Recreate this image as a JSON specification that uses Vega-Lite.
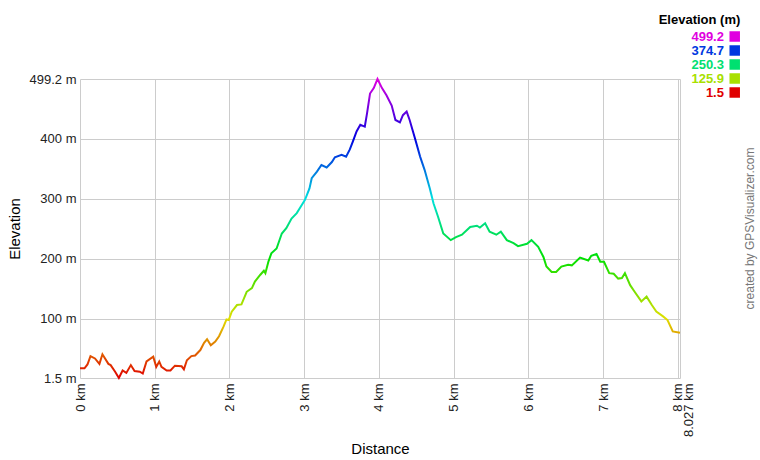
{
  "$schema": "https://vega.github.io/schema/vega-lite/v6.json",
  "width": 600,
  "height": 299,
  "autosize": {"type": "none"},
  "padding": {"left": 80, "top": 79, "right": 80, "bottom": 82},
  "background": "white",
  "config": {"view": {"stroke": null}, "font": "Liberation Sans"},
  "title": {
    "text": "created by GPSVisualizer.com",
    "orient": "right",
    "angle": 270,
    "anchor": "middle",
    "frame": "group",
    "offset": -7,
    "fontSize": 12,
    "fontWeight": "normal",
    "font": "Liberation Sans",
    "color": "#777777"
  },
  "layer": [
    {
      "data": {
        "values": [
          {"distance_km": 0.00, "elevation_m": 17.6},
          {"distance_km": 0.06, "elevation_m": 17.6},
          {"distance_km": 0.10, "elevation_m": 24},
          {"distance_km": 0.14, "elevation_m": 38},
          {"distance_km": 0.20, "elevation_m": 34},
          {"distance_km": 0.26, "elevation_m": 25},
          {"distance_km": 0.30, "elevation_m": 41},
          {"distance_km": 0.38, "elevation_m": 25},
          {"distance_km": 0.41, "elevation_m": 23},
          {"distance_km": 0.47, "elevation_m": 12},
          {"distance_km": 0.52, "elevation_m": 1.5},
          {"distance_km": 0.57, "elevation_m": 14},
          {"distance_km": 0.62, "elevation_m": 10},
          {"distance_km": 0.68, "elevation_m": 23},
          {"distance_km": 0.73, "elevation_m": 13},
          {"distance_km": 0.80, "elevation_m": 12},
          {"distance_km": 0.84, "elevation_m": 9},
          {"distance_km": 0.89, "elevation_m": 29},
          {"distance_km": 0.98, "elevation_m": 37},
          {"distance_km": 1.02, "elevation_m": 20},
          {"distance_km": 1.06, "elevation_m": 29},
          {"distance_km": 1.09, "elevation_m": 20},
          {"distance_km": 1.16, "elevation_m": 14},
          {"distance_km": 1.21, "elevation_m": 14},
          {"distance_km": 1.27, "elevation_m": 22},
          {"distance_km": 1.36, "elevation_m": 21},
          {"distance_km": 1.39, "elevation_m": 16},
          {"distance_km": 1.43, "elevation_m": 31},
          {"distance_km": 1.49, "elevation_m": 38},
          {"distance_km": 1.54, "elevation_m": 39},
          {"distance_km": 1.61, "elevation_m": 48},
          {"distance_km": 1.66, "elevation_m": 60},
          {"distance_km": 1.70, "elevation_m": 66},
          {"distance_km": 1.75, "elevation_m": 56},
          {"distance_km": 1.81, "elevation_m": 62},
          {"distance_km": 1.86, "elevation_m": 71},
          {"distance_km": 1.92, "elevation_m": 87},
          {"distance_km": 1.96, "elevation_m": 99},
          {"distance_km": 1.99, "elevation_m": 98},
          {"distance_km": 2.03, "elevation_m": 112},
          {"distance_km": 2.10, "elevation_m": 123},
          {"distance_km": 2.16, "elevation_m": 124},
          {"distance_km": 2.23, "elevation_m": 145},
          {"distance_km": 2.30, "elevation_m": 151},
          {"distance_km": 2.34, "elevation_m": 162},
          {"distance_km": 2.41, "elevation_m": 173},
          {"distance_km": 2.46, "elevation_m": 180},
          {"distance_km": 2.48, "elevation_m": 176},
          {"distance_km": 2.52, "elevation_m": 195},
          {"distance_km": 2.56, "elevation_m": 209},
          {"distance_km": 2.63, "elevation_m": 217},
          {"distance_km": 2.70, "elevation_m": 242},
          {"distance_km": 2.76, "elevation_m": 251},
          {"distance_km": 2.83, "elevation_m": 267},
          {"distance_km": 2.90, "elevation_m": 276},
          {"distance_km": 2.94, "elevation_m": 284},
          {"distance_km": 3.01, "elevation_m": 298},
          {"distance_km": 3.07, "elevation_m": 317},
          {"distance_km": 3.10, "elevation_m": 334},
          {"distance_km": 3.17, "elevation_m": 345},
          {"distance_km": 3.23, "elevation_m": 356},
          {"distance_km": 3.30, "elevation_m": 352},
          {"distance_km": 3.37, "elevation_m": 361},
          {"distance_km": 3.41, "elevation_m": 369},
          {"distance_km": 3.50, "elevation_m": 373},
          {"distance_km": 3.56, "elevation_m": 370},
          {"distance_km": 3.61, "elevation_m": 382},
          {"distance_km": 3.65, "elevation_m": 395},
          {"distance_km": 3.70, "elevation_m": 412},
          {"distance_km": 3.75, "elevation_m": 423},
          {"distance_km": 3.81, "elevation_m": 420},
          {"distance_km": 3.84, "elevation_m": 442},
          {"distance_km": 3.88, "elevation_m": 475},
          {"distance_km": 3.93, "elevation_m": 484},
          {"distance_km": 3.98, "elevation_m": 499.2},
          {"distance_km": 4.04, "elevation_m": 484},
          {"distance_km": 4.10, "elevation_m": 472},
          {"distance_km": 4.17, "elevation_m": 455},
          {"distance_km": 4.22, "elevation_m": 431},
          {"distance_km": 4.28, "elevation_m": 427},
          {"distance_km": 4.32, "elevation_m": 439},
          {"distance_km": 4.37, "elevation_m": 445},
          {"distance_km": 4.41, "elevation_m": 431},
          {"distance_km": 4.48, "elevation_m": 401},
          {"distance_km": 4.55, "elevation_m": 370},
          {"distance_km": 4.61, "elevation_m": 348},
          {"distance_km": 4.68, "elevation_m": 317},
          {"distance_km": 4.73, "elevation_m": 292},
          {"distance_km": 4.79, "elevation_m": 270},
          {"distance_km": 4.86, "elevation_m": 242},
          {"distance_km": 4.96, "elevation_m": 231},
          {"distance_km": 5.03, "elevation_m": 236},
          {"distance_km": 5.11, "elevation_m": 240},
          {"distance_km": 5.22, "elevation_m": 253},
          {"distance_km": 5.31, "elevation_m": 255},
          {"distance_km": 5.35, "elevation_m": 252},
          {"distance_km": 5.42, "elevation_m": 259},
          {"distance_km": 5.48, "elevation_m": 245},
          {"distance_km": 5.57, "elevation_m": 240},
          {"distance_km": 5.63, "elevation_m": 245},
          {"distance_km": 5.71, "elevation_m": 231},
          {"distance_km": 5.80, "elevation_m": 226},
          {"distance_km": 5.86, "elevation_m": 221},
          {"distance_km": 5.98, "elevation_m": 225},
          {"distance_km": 6.04, "elevation_m": 231},
          {"distance_km": 6.13, "elevation_m": 220},
          {"distance_km": 6.20, "elevation_m": 203},
          {"distance_km": 6.24, "elevation_m": 187},
          {"distance_km": 6.31, "elevation_m": 178},
          {"distance_km": 6.37, "elevation_m": 178},
          {"distance_km": 6.44, "elevation_m": 187},
          {"distance_km": 6.53, "elevation_m": 190},
          {"distance_km": 6.58, "elevation_m": 189},
          {"distance_km": 6.69, "elevation_m": 202},
          {"distance_km": 6.80, "elevation_m": 197},
          {"distance_km": 6.84, "elevation_m": 205},
          {"distance_km": 6.91, "elevation_m": 208},
          {"distance_km": 6.96, "elevation_m": 195},
          {"distance_km": 7.01, "elevation_m": 195},
          {"distance_km": 7.08, "elevation_m": 176},
          {"distance_km": 7.14, "elevation_m": 175},
          {"distance_km": 7.20, "elevation_m": 167},
          {"distance_km": 7.25, "elevation_m": 168},
          {"distance_km": 7.29, "elevation_m": 176},
          {"distance_km": 7.36, "elevation_m": 156},
          {"distance_km": 7.42, "elevation_m": 145},
          {"distance_km": 7.51, "elevation_m": 129},
          {"distance_km": 7.58, "elevation_m": 137},
          {"distance_km": 7.65, "elevation_m": 123},
          {"distance_km": 7.71, "elevation_m": 112},
          {"distance_km": 7.80, "elevation_m": 104},
          {"distance_km": 7.86, "elevation_m": 98},
          {"distance_km": 7.93, "elevation_m": 79},
          {"distance_km": 8.027, "elevation_m": 77}
        ]
      },
      "mark": {
        "type": "line",
        "strokeWidth": 2,
        "stroke": {
          "gradient": "linear",
          "x1": 0, "y1": 1, "x2": 0, "y2": 0,
          "stops": [
            {"offset": 0, "color": "#e00000"},
            {"offset": 0.2, "color": "#e0e000"},
            {"offset": 0.4, "color": "#00e000"},
            {"offset": 0.6, "color": "#00e0e0"},
            {"offset": 0.8, "color": "#0000e0"},
            {"offset": 1, "color": "#e000e0"}
          ]
        }
      },
      "encoding": {
        "x": {
          "field": "distance_km",
          "type": "quantitative",
          "scale": {"domain": [0, 8.027], "nice": false, "zero": false},
          "axis": {
            "values": [0, 1, 2, 3, 4, 5, 6, 7, 8, 8.027],
            "labelExpr": "datum.value + ' km'",
            "labelAngle": 270,
            "labelFontSize": 13,
            "labelColor": "#222222",
            "labelPadding": 5,
            "labelOverlap": false,
            "labelBound": false,
            "labelFlush": false,
            "labelOffset": {"condition": {"test": "datum.value > 8.01", "value": 8}, "value": 0},
            "ticks": false,
            "domain": false,
            "grid": true,
            "gridColor": "#cccccc",
            "title": "Distance",
            "titleFontSize": 15,
            "titleFontWeight": "normal",
            "titleColor": "#000000",
            "titlePadding": 5
          }
        },
        "y": {
          "field": "elevation_m",
          "type": "quantitative",
          "scale": {"domain": [1.5, 499.2], "nice": false, "zero": false},
          "axis": {
            "values": [1.5, 100, 200, 300, 400, 499.2],
            "labelExpr": "datum.value + ' m'",
            "labelFontSize": 13,
            "labelColor": "#222222",
            "labelPadding": 4,
            "labelFlush": false,
            "labelOverlap": false,
            "ticks": false,
            "domain": false,
            "grid": true,
            "gridColor": "#cccccc",
            "title": "Elevation",
            "titleFontSize": 15,
            "titleFontWeight": "normal",
            "titleColor": "#000000",
            "titlePadding": 7
          }
        }
      }
    },
    {
      "data": {
        "values": [
          {"label": "499.2"},
          {"label": "374.7"},
          {"label": "250.3"},
          {"label": "125.9"},
          {"label": "1.5"}
        ]
      },
      "mark": {"type": "square", "opacity": 0},
      "encoding": {
        "color": {
          "field": "label",
          "type": "nominal",
          "sort": null,
          "scale": {
            "domain": ["499.2", "374.7", "250.3", "125.9", "1.5"],
            "range": ["#e000e0", "#0038e0", "#00e070", "#a8e000", "#e00000"]
          },
          "legend": {
            "orient": "none",
            "legendX": 575.3,
            "legendY": -65,
            "padding": 0,
            "title": "Elevation (m)",
            "titleFont": "Liberation Sans",
            "titleFontSize": 13,
            "titleFontWeight": "bold",
            "titleColor": "#000000",
            "titleAnchor": "end",
            "titleAlign": "right",
            "titlePadding": 3,
            "labelFont": "Liberation Sans",
            "labelFontSize": 13,
            "labelFontWeight": "bold",
            "labelAlign": "right",
            "labelExpr": "(datum.label == '1.5' ? '\u00a0\u00a0\u00a0\u00a0\u00a0\u00a0\u00a0\u00a0\u00a0\u00a0\u00a0\u00a0\u00a0\u00a0' : '\u00a0\u00a0\u00a0\u00a0\u00a0\u00a0\u00a0\u00a0\u00a0\u00a0') + datum.label",
            "symbolType": "square",
            "symbolSize": 110,
            "symbolStrokeWidth": 0,
            "symbolOpacity": 1,
            "rowPadding": 0,
            "encode": {
              "labels": {"update": {"fill": {"scale": "color", "field": "value"}, "x": {"value": 68.67}}},
              "symbols": {"update": {"x": {"value": 79.42}}}
            }
          }
        }
      }
    }
  ]
}
